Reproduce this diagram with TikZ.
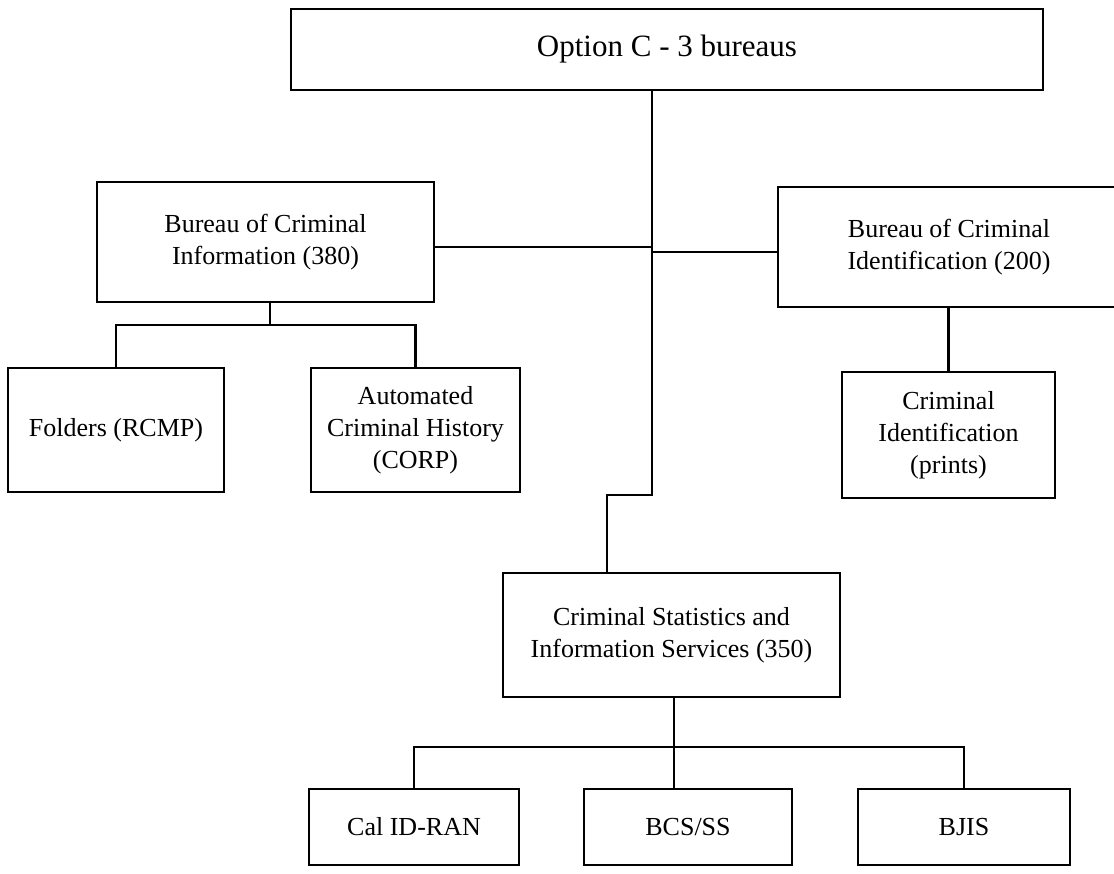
\documentclass[tikz,border=0pt]{standalone}
\usepackage{fontspec}
\setmainfont{Liberation Serif}
\begin{document}
\begin{tikzpicture}[x=1pt,y=-1pt,
  box/.style={draw, line width=2.4pt, inner sep=0pt, align=center,
              font=\fontsize{26}{32}\selectfont},
  conn/.style={line width=2.4pt}]
\useasboundingbox[fill=white] (0,0) rectangle (1114,874);

% boxes
\node[box, minimum width=752pt, minimum height=81pt, font=\fontsize{31}{36}\selectfont]
  (top) at (667,49.5) {Option C - 3 bureaus};
\node[box, minimum width=337pt, minimum height=120pt] (bci) at (265.5,242)
  {Bureau of Criminal\\Information (380)};
\node[box, minimum width=342pt, minimum height=120pt] (bid) at (949,247)
  {Bureau of Criminal\\Identification (200)};
\node[box, minimum width=216pt, minimum height=124pt] (folders) at (116,430)
  {Folders (RCMP)};
\node[box, minimum width=209pt, minimum height=124pt] (auto) at (415.5,430)
  {Automated\\Criminal History\\(CORP)};
\node[box, minimum width=213pt, minimum height=126pt] (prints) at (948.5,435)
  {Criminal\\Identification\\(prints)};
\node[box, minimum width=337pt, minimum height=124pt] (stats) at (671.5,635)
  {Criminal Statistics and\\Information Services (350)};
\node[box, minimum width=210pt, minimum height=76pt] (cal) at (414,827) {Cal ID-RAN};
\node[box, minimum width=208pt, minimum height=76pt] (bcs) at (688,827) {BCS/SS};
\node[box, minimum width=212pt, minimum height=76pt] (bjis) at (964,827) {BJIS};

% junctions
\coordinate (tj) at (652,90);
\coordinate (lj) at (652,247);
\coordinate (rj) at (652,252);
\coordinate (jog) at (607,495);
\coordinate (cj) at (270,325);
\coordinate (bj) at (674,747);

% connectors
\draw[conn] (tj |- top.south) -- (tj |- jog) -- (jog) -- (jog |- stats.north);
\draw[conn] (lj) -- (lj -| bci.east);
\draw[conn] (rj) -- (rj -| bid.west);
\draw[conn] (cj |- bci.south) -- (cj);
\draw[conn] (folders.north) |- (cj) -| (auto.north);
\draw[conn] (prints.north |- bid.south) -- (prints.north);
\draw[conn] (bj |- stats.south) -- (bj);
\draw[conn] (cal.north) |- (bj) -| (bjis.north);
\draw[conn] (bj) -- (bj |- bcs.north);
\end{tikzpicture}
\end{document}
